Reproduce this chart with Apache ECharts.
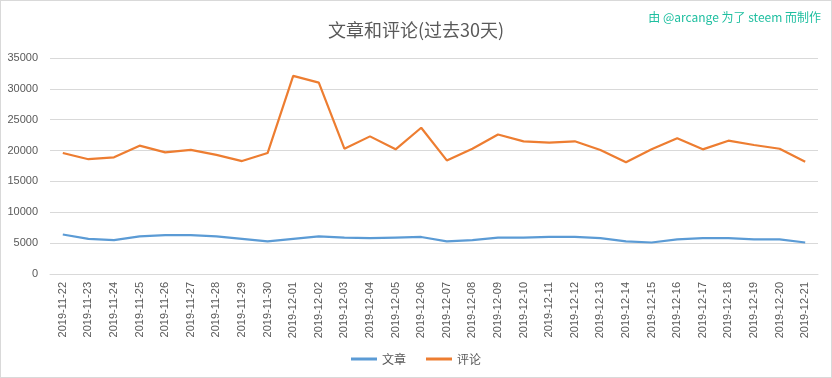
<!DOCTYPE html>
<html>
<head>
    <meta charset="utf-8">
    <title>文章和评论</title>
    <script src="https://cdn.jsdelivr.net/npm/echarts@6/dist/echarts.min.js"></script>
    <style>
        html, body { margin: 0; padding: 0; background: #fff; }
        #chart { width: 830px; height: 376px; border: 1px solid #d9d9d9; }
    </style>
</head>
<body>
    <div id="chart"></div>
    <script type="text/javascript">
        var days = ['2019-11-22','2019-11-23','2019-11-24','2019-11-25','2019-11-26','2019-11-27','2019-11-28','2019-11-29','2019-11-30',
            '2019-12-01','2019-12-02','2019-12-03','2019-12-04','2019-12-05','2019-12-06','2019-12-07','2019-12-08','2019-12-09','2019-12-10',
            '2019-12-11','2019-12-12','2019-12-13','2019-12-14','2019-12-15','2019-12-16','2019-12-17','2019-12-18','2019-12-19','2019-12-20','2019-12-21'];
        var posts = [6400,5700,5500,6100,6300,6300,6100,5700,5300,
            5700,6100,5900,5800,5900,6000,5300,5500,5900,5900,
            6000,6000,5800,5300,5100,5600,5800,5800,5600,5600,5100];
        var comments = [19600,18600,18900,20800,19700,20100,19300,18300,19600,
            32100,31000,20300,22300,20200,23700,18400,20300,22600,21500,
            21300,21500,20100,18100,20200,22000,20200,21600,20900,20300,18200];

        var myChart = echarts.init(document.getElementById('chart'));
        var option = {
            animation: false,
            title: {
                text: '文章和评论(过去30天)',
                left: 'center',
                top: 15,
                textStyle: { fontSize: 18, fontWeight: 'normal', color: '#595959', fontFamily: 'Noto Sans CJK SC' }
            },
            graphic: [{
                type: 'text',
                right: 10,
                top: 10,
                style: { text: '由 @arcange 为了 steem 而制作', fill: '#1fbfa0', fontSize: 12, fontFamily: 'Noto Sans CJK SC' }
            }],
            legend: {
                bottom: 7,
                left: 'center',
                itemWidth: 26,
                itemHeight: 3,
                itemGap: 20,
                icon: 'rect',
                textStyle: { color: '#595959', fontSize: 12, fontFamily: 'Noto Sans CJK SC' },
                data: ['文章', '评论']
            },
            grid: { left: 49, right: 13, top: 57, bottom: 103 },
            xAxis: {
                type: 'category',
                data: days,
                boundaryGap: true,
                axisLine: { lineStyle: { color: '#d9d9d9' } },
                axisTick: { show: false },
                axisLabel: { rotate: 90, interval: 0, color: '#595959', fontSize: 11, margin: 8 }
            },
            yAxis: {
                type: 'value',
                min: 0,
                max: 35000,
                interval: 5000,
                axisLine: { show: false },
                axisTick: { show: false },
                axisLabel: { color: '#595959', fontSize: 11, margin: 12, formatter: function (v) { return String(v); } },
                splitLine: { lineStyle: { color: '#d9d9d9' } }
            },
            series: [
                {
                    name: '文章',
                    type: 'line',
                    data: posts,
                    symbol: 'none',
                    itemStyle: { color: '#5b9bd5' },
                    lineStyle: { width: 2.2, color: '#5b9bd5' }
                },
                {
                    name: '评论',
                    type: 'line',
                    data: comments,
                    symbol: 'none',
                    itemStyle: { color: '#ed7d31' },
                    lineStyle: { width: 2.2, color: '#ed7d31' }
                }
            ]
        };
        myChart.setOption(option);
    </script>
</body>
</html>
